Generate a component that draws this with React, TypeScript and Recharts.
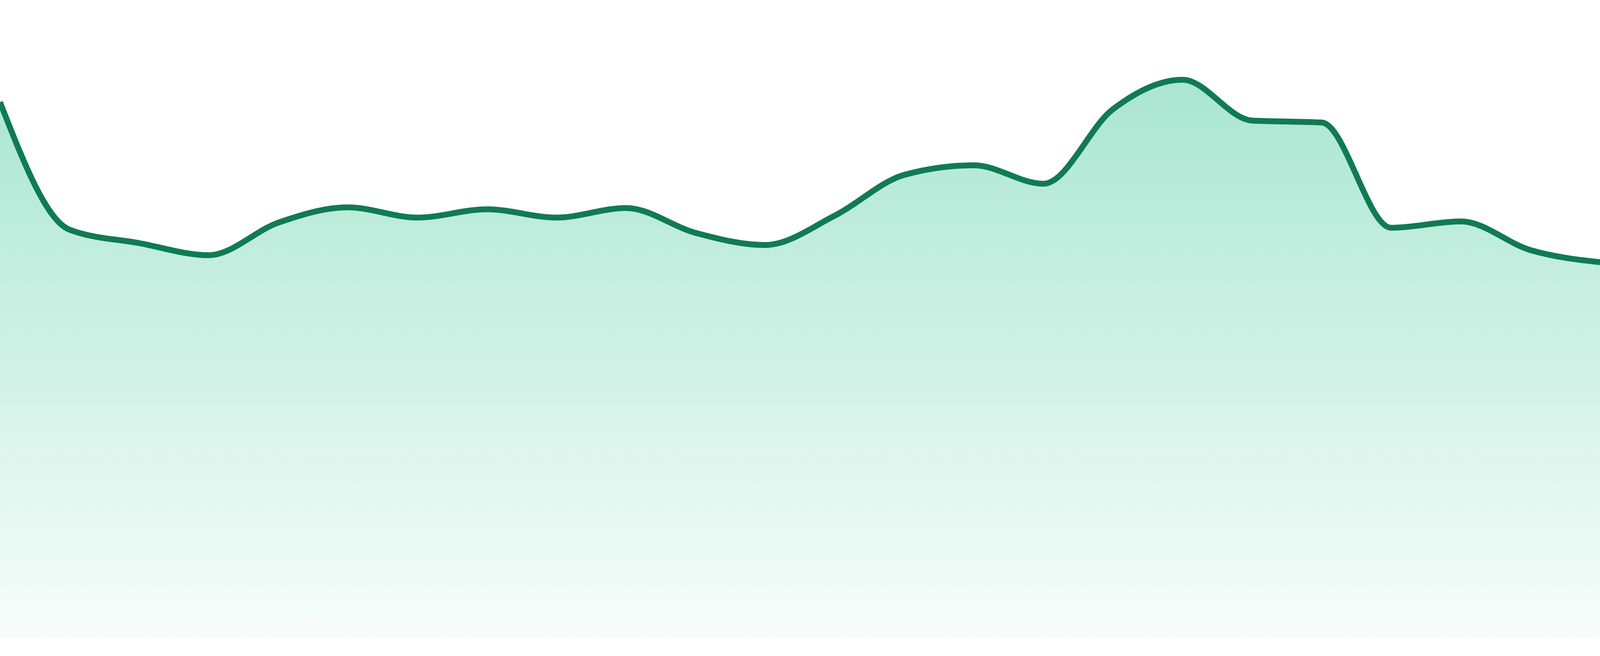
import { Area, AreaChart, XAxis, YAxis } from "recharts";

const days = [
  "1", "2", "3", "4", "5", "6", "7", "8", "9", "10", "11", "12",
  "13", "14", "15", "16", "17", "18", "19", "20", "21", "22", "23", "24",
];

const values = [
  84.0, 64.0, 61.9, 60.0, 65.1, 67.5, 65.9, 67.2, 65.9, 67.4, 63.5, 61.6,
  66.2, 72.6, 74.1, 71.2, 82.9, 87.5, 81.1, 80.8, 64.3, 65.3, 60.8, 58.9,
];

const data = days.map((day, i) => ({ day, value: values[i] }));

const LINE = "#107b52";
const FILL = "#10b981";

export default function App() {
  // the browser caps the viewport width, so fit the chart to what is visible
  const w = window.innerWidth || 4800;
  const h = window.innerHeight || 1680;
  const s = h / 1680;

  return (
    <div style={{ width: w, height: h, background: "#fff", overflow: "hidden" }}>
      <style>{"body{margin:0;overflow:hidden}"}</style>
      <AreaChart
        width={w}
        height={h}
        data={data}
        margin={{ top: 0, right: 0, bottom: 46 * s, left: 0 }}
      >
        <defs>
          <linearGradient id="areaFill" x1="0" y1="0" x2="0" y2="1">
            <stop offset="0%" stopColor={FILL} stopOpacity={0.36} />
            <stop offset="100%" stopColor={FILL} stopOpacity={0.03} />
          </linearGradient>
        </defs>
        <XAxis dataKey="day" hide />
        <YAxis hide domain={[0, 100]} />
        <Area
          type="monotone"
          dataKey="value"
          stroke={LINE}
          strokeWidth={15 * s}
          fill="url(#areaFill)"
          fillOpacity={1}
          dot={false}
          activeDot={false}
          isAnimationActive={false}
        />
      </AreaChart>
    </div>
  );
}
